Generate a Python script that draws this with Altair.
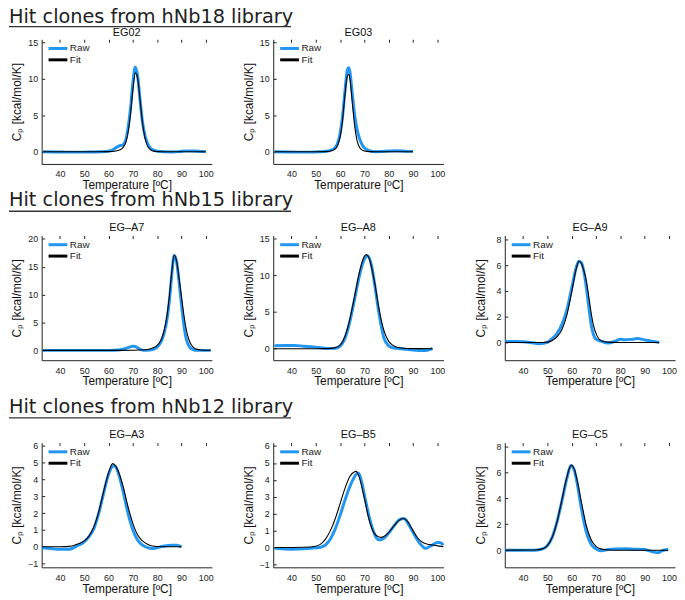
import altair as alt
import pandas as pd

FONT = "Liberation Sans"
BLUE = "#2196f3"
W, H = 172, 126
X_DOMAIN = [32.5, 102.5]
X_TICKS = [40, 50, 60, 70, 80, 90, 100]
SERIES = ["Raw", "Fit"]
SECTIONS = ["Hit clones from hNb18 library",
            "Hit clones from hNb15 library",
            "Hit clones from hNb12 library"]

# ---------------- EG02 ----------------
EG02_T_RAW = [33, 38, 43, 48, 53, 57, 60, 62, 63, 64, 65, 66, 67, 68, 69, 70, 71, 72, 73, 74, 75, 76, 77, 78, 80, 83, 86, 89, 92, 95, 98, 100]
EG02_RAW = [0.0, -0.02, -0.05, -0.05, -0.03, 0.0, 0.08, 0.3, 0.55, 0.75, 0.85, 0.95, 1.5, 3.2, 5.8, 9.4, 11.6, 10.3, 7.0, 4.0, 2.2, 1.2, 0.6, 0.3, 0.08, 0.0, -0.02, 0.02, 0.12, 0.1, 0.04, 0.0]
EG02_T_FIT = [33, 45, 55, 60, 63, 65, 66, 67, 68, 69, 70, 71, 72, 73, 74, 75, 76, 77, 78, 80, 85, 100]
EG02_FIT = [0.0, 0.0, 0.0, 0.02, 0.1, 0.3, 0.6, 1.2, 2.6, 5.0, 8.4, 10.8, 10.0, 7.0, 3.9, 1.9, 0.8, 0.35, 0.15, 0.03, 0.0, 0.0]

# ---------------- EG03 ----------------
EG03_T_RAW = [33, 38, 42, 46, 50, 53, 55, 57, 58, 59, 60, 61, 62, 63, 63.5, 64, 65, 66, 67, 68, 69, 70, 72, 74, 77, 80, 83, 86, 88, 90]
EG03_RAW = [0.0, -0.02, -0.05, -0.05, -0.02, 0.02, 0.1, 0.3, 0.6, 1.2, 2.5, 4.8, 8.3, 11.2, 11.5, 11.0, 8.0, 5.0, 3.0, 1.8, 1.0, 0.55, 0.15, 0.0, 0.02, 0.1, 0.15, 0.1, 0.05, 0.05]
EG03_T_FIT = [33, 50, 54, 56, 58, 59, 60, 61, 62, 63, 63.6, 64, 65, 66, 67, 68, 69, 70, 72, 75, 90]
EG03_FIT = [0.0, 0.0, 0.02, 0.1, 0.4, 0.9, 2.0, 4.3, 7.8, 10.4, 10.6, 10.1, 6.8, 3.5, 1.5, 0.6, 0.25, 0.1, 0.02, 0.0, 0.0]

# ---------------- EG-A7 ----------------
A7_T_RAW = [33, 40, 50, 60, 64, 66, 68, 70, 71, 72, 73, 74, 75, 77, 79, 80, 81, 82, 83, 84, 85, 86, 87, 88, 89, 90, 91, 92, 93, 94, 95, 96, 100, 102]
A7_RAW = [0.0, 0.0, 0.0, 0.0, 0.05, 0.2, 0.5, 0.75, 0.7, 0.45, 0.2, 0.05, 0.0, 0.05, 0.3, 0.6, 1.1, 1.9, 3.3, 5.4, 8.8, 13.5, 17.0, 15.9, 12.3, 8.2, 4.5, 2.0, 0.8, 0.3, 0.1, 0.0, 0.0, 0.0]
A7_T_FIT = [33, 60, 70, 75, 77, 79, 80, 81, 82, 83, 84, 85, 86, 87, 88, 89, 90, 91, 92, 93, 94, 95, 96, 98, 100, 102]
A7_FIT = [0.0, 0.0, 0.02, 0.1, 0.25, 0.6, 0.9, 1.4, 2.3, 3.8, 6.1, 9.6, 14.0, 17.1, 16.0, 13.0, 9.6, 6.3, 3.7, 2.0, 1.0, 0.5, 0.25, 0.06, 0.01, 0.0]

# ---------------- EG-A8 ----------------
A8_T_RAW = [33, 37, 41, 45, 50, 55, 58, 60, 62, 64, 66, 68, 70, 71.4, 73, 74, 76, 78, 80, 82, 85, 88, 91, 93, 95, 97, 98]
A8_RAW = [0.4, 0.45, 0.45, 0.35, 0.2, 0.05, 0.05, 0.35, 1.4, 3.7, 6.8, 10.0, 12.2, 12.6, 11.2, 9.2, 4.8, 1.5, 0.4, 0.1, 0.0, -0.1, -0.2, -0.25, -0.25, -0.1, 0.05]
A8_T_FIT = [33, 50, 55, 58, 60, 62, 64, 66, 68, 70, 70.8, 72, 74, 76, 78, 80, 82, 85, 90, 98]
A8_FIT = [0.0, 0.0, 0.02, 0.15, 0.5, 1.7, 4.0, 7.2, 10.5, 12.6, 12.8, 12.2, 9.4, 5.4, 2.5, 1.0, 0.4, 0.1, 0.02, 0.0]

# ---------------- EG-A9 ----------------
A9_T_RAW = [32.7, 36, 40, 44, 47, 50, 52, 54, 56, 58, 60, 62, 63, 64, 65, 66, 67, 68, 69, 70, 72, 75, 78, 80, 82, 85, 87, 90, 93, 96]
A9_RAW = [0.08, 0.07, 0.05, -0.03, -0.1, 0.0, 0.3, 0.7, 1.4, 2.5, 4.2, 5.9, 6.3, 6.2, 5.5, 4.3, 2.8, 1.4, 0.6, 0.25, 0.1, -0.05, 0.1, 0.25, 0.2, 0.25, 0.3, 0.2, 0.1, 0.0]
A9_T_FIT = [32.7, 40, 48, 50, 52, 54, 56, 58, 60, 62, 63, 64, 65, 66, 67, 68, 69, 70, 72, 75, 80, 96]
A9_FIT = [0.0, 0.0, 0.0, 0.02, 0.15, 0.45, 1.0, 2.1, 3.9, 5.8, 6.3, 6.1, 5.6, 4.8, 3.6, 2.3, 1.3, 0.7, 0.15, 0.02, 0.0, 0.0]

# ---------------- EG-A3 ----------------
A3_T_RAW = [32.6, 36, 40, 43, 45, 47, 50, 52, 54, 56, 58, 60, 62, 63, 64, 66, 68, 70, 72, 74, 76, 78, 80, 83, 86, 88, 90]
A3_RAW = [-0.06, -0.1, -0.15, -0.15, -0.1, 0.05, 0.3, 0.6, 1.1, 2.0, 3.2, 4.3, 4.82, 4.75, 4.4, 3.3, 2.0, 1.0, 0.4, 0.1, -0.05, -0.1, -0.05, 0.05, 0.1, 0.1, 0.0]
A3_T_FIT = [32.6, 40, 45, 47, 50, 52, 54, 56, 58, 60, 61.7, 63, 64, 66, 68, 70, 72, 74, 76, 78, 80, 85, 90]
A3_FIT = [0.0, 0.0, 0.05, 0.15, 0.35, 0.65, 1.2, 2.1, 3.3, 4.4, 4.95, 4.8, 4.5, 3.6, 2.4, 1.4, 0.7, 0.35, 0.15, 0.05, 0.02, 0.0, 0.0]

# ---------------- EG-B5 ----------------
B5_T_RAW = [33, 40, 45, 50, 52, 54, 56, 58, 60, 62, 64, 66, 67, 67.5, 68, 69, 70, 72, 74, 75, 76, 78, 80, 82, 84, 86, 87, 88, 90, 92, 94, 95, 96, 98, 100, 101, 102.5]
B5_RAW = [-0.05, -0.1, -0.08, -0.02, 0.02, 0.15, 0.5, 1.1, 1.9, 2.8, 3.6, 4.2, 4.38, 4.4, 4.3, 3.8, 3.1, 1.8, 0.85, 0.55, 0.45, 0.55, 0.85, 1.25, 1.6, 1.72, 1.65, 1.4, 0.9, 0.4, 0.05, -0.05, 0.0, 0.15, 0.3, 0.3, 0.15]
B5_T_FIT = [33, 45, 50, 52, 54, 56, 58, 60, 62, 64, 66, 66.5, 67, 68, 70, 72, 74, 76, 77, 78, 80, 82, 84, 86, 88, 90, 92, 94, 96, 98, 100, 102.5]
B5_FIT = [0.0, 0.02, 0.08, 0.2, 0.5, 1.0, 1.7, 2.6, 3.5, 4.2, 4.48, 4.5, 4.45, 4.1, 2.9, 1.6, 0.85, 0.62, 0.6, 0.65, 0.9, 1.25, 1.58, 1.72, 1.5, 1.0, 0.55, 0.3, 0.2, 0.15, 0.1, 0.05]

# ---------------- EG-C5 ----------------
C5_T_RAW = [32.6, 38, 43, 46, 48, 50, 52, 54, 56, 58, 59.7, 61, 62, 64, 66, 68, 70, 72, 75, 78, 82, 86, 90, 92, 94, 95.5, 97, 99.7]
C5_RAW = [0.0, 0.0, 0.0, 0.02, 0.1, 0.35, 1.0, 2.2, 3.8, 5.5, 6.52, 6.2, 5.4, 3.2, 1.4, 0.45, 0.1, -0.05, 0.05, 0.1, 0.12, 0.08, 0.05, -0.05, -0.15, -0.2, -0.05, 0.05]
C5_T_FIT = [32.6, 45, 48, 50, 52, 54, 56, 58, 59.8, 61, 62, 64, 66, 68, 70, 72, 75, 80, 99.7]
C5_FIT = [0.0, 0.02, 0.1, 0.35, 1.0, 2.2, 3.9, 5.6, 6.55, 6.3, 5.6, 3.7, 1.9, 0.8, 0.3, 0.1, 0.02, 0.0, 0.0]

# y axis ranges and ticks
Y_DOM = {
    "EG02": [-1.67, 15.4], "EG03": [-1.67, 15.4],
    "EG–A7": [-1.76, 20.6], "EG–A8": [-1.56, 15.4], "EG–A9": [-1.38, 8.3],
    "EG–A3": [-1.22, 6.2], "EG–B5": [-1.17, 6.2], "EG–C5": [-1.32, 8.28],
}
Y_TICKS = {
    "EG02": [0, 5, 10, 15], "EG03": [0, 5, 10, 15],
    "EG–A7": [0, 5, 10, 15, 20], "EG–A8": [0, 5, 10, 15], "EG–A9": [0, 2, 4, 6, 8],
    "EG–A3": [-1, 0, 1, 2, 3, 4, 5, 6], "EG–B5": [-1, 0, 1, 2, 3, 4, 5, 6], "EG–C5": [0, 2, 4, 6, 8],
}


def text_layer(label, x, y, **kw):
    return alt.Chart(pd.DataFrame({"label": [label]})).mark_text(**kw).encode(
        text="label:N", x=alt.value(x), y=alt.value(y))


def rule_layer(x1, x2, y, color, width):
    return alt.Chart(pd.DataFrame({"label": ["-"]})).mark_rule(
        color=color, strokeWidth=width).encode(
        x=alt.value(x1), x2=alt.value(x2), y=alt.value(y))


def panel(name, t_raw, raw, t_fit, fit, section=None, sec_base=None, sec_line=None,
          name_y=-4.5):
    xenc = alt.X("T:Q", scale=alt.Scale(domain=X_DOMAIN, nice=False, zero=False),
                 axis=alt.Axis(values=X_TICKS, tickCount=len(X_TICKS) + 1,
                               title="Temperature [ºC]",
                               labelOverlap=False, labelFlush=False,
                               titleY=16, titleBaseline="top"))
    yenc = alt.Y("Cp:Q", scale=alt.Scale(domain=Y_DOM[name], nice=False, zero=False),
                 axis=alt.Axis(values=Y_TICKS[name], tickCount=len(Y_TICKS[name]) + 1,
                               title="Cₚ [kcal/mol/K]",
                               labelOverlap=False, labelFlush=False,
                               titleX=-21, titleBaseline="alphabetic"))
    raw_l = alt.Chart(pd.DataFrame({"T": t_raw, "Cp": raw})).mark_line(
        color=BLUE, strokeWidth=3, interpolate="monotone").encode(x=xenc, y=yenc)
    fit_l = alt.Chart(pd.DataFrame({"T": t_fit, "Cp": fit})).mark_line(
        color="black", strokeWidth=1.1, interpolate="monotone").encode(x="T:Q", y="Cp:Q")
    layers = [raw_l, fit_l,
              rule_layer(7, 26, 9.3, BLUE, 3),
              text_layer(SERIES[0], 28.5, 9.3, align="left", baseline="middle",
                         font=FONT, fontSize=10, color="#222"),
              rule_layer(7, 26, 20.8, "black", 3),
              text_layer(SERIES[1], 28.5, 20.8, align="left", baseline="middle",
                         font=FONT, fontSize=10, color="#222"),
              text_layer(name, W / 2, name_y, align="center", baseline="alphabetic",
                         font=FONT, fontSize=11, color="#111")]
    if section is not None:
        layers.append(text_layer(section, -33, sec_base, align="left", baseline="alphabetic",
                                 font="DejaVu Sans", fontSize=19.5,
                                 color="#222"))
        layers.append(rule_layer(-33, 252, sec_line, "#333", 1.3))
    return alt.layer(*layers).properties(width=W, height=H)


blank = alt.Chart(pd.DataFrame({"label": [""]})).mark_text().encode(
    text="label:N").properties(width=W, height=H)

upper = alt.concat(
    panel("EG02", EG02_T_RAW, EG02_RAW, EG02_T_FIT, EG02_FIT, SECTIONS[0], -16, -12.8,
          name_y=-3.5),
    panel("EG03", EG03_T_RAW, EG03_RAW, EG03_T_FIT, EG03_FIT, name_y=-3.5),
    blank,
    panel("EG–A7", A7_T_RAW, A7_RAW, A7_T_FIT, A7_FIT, SECTIONS[1], -29.5, -24.5),
    panel("EG–A8", A8_T_RAW, A8_RAW, A8_T_FIT, A8_FIT),
    panel("EG–A9", A9_T_RAW, A9_RAW, A9_T_FIT, A9_FIT),
    columns=3, spacing={"row": 72.3, "column": 62}, bounds="flush")

lower = alt.hconcat(
    panel("EG–A3", A3_T_RAW, A3_RAW, A3_T_FIT, A3_FIT, SECTIONS[2], -29.5, -25),
    panel("EG–B5", B5_T_RAW, B5_RAW, B5_T_FIT, B5_FIT),
    panel("EG–C5", C5_T_RAW, C5_RAW, C5_T_FIT, C5_FIT),
    spacing=62, bounds="flush")

chart = alt.vconcat(upper, lower, spacing=9.6, bounds="full",
                    padding={"top": -3.5, "left": 0, "right": 0, "bottom": 0}).configure(
    background="white"
).configure_view(stroke=None).configure_axis(
    grid=True, gridDash=[3, 600], gridColor="#222", gridOpacity=1, gridWidth=1,
    ticks=False, tickSize=0, domainColor="#222", domainWidth=1,
    labelFont=FONT, labelFontSize=9, labelColor="#222", labelOverlap=False,
    titleFont=FONT, titleFontSize=12, titleFontWeight="normal", titleColor="#111"
).configure_axisX(labelPadding=6).configure_axisY(labelPadding=4)

chart.save("out.html", embed_options={"renderer": "svg", "actions": False})
